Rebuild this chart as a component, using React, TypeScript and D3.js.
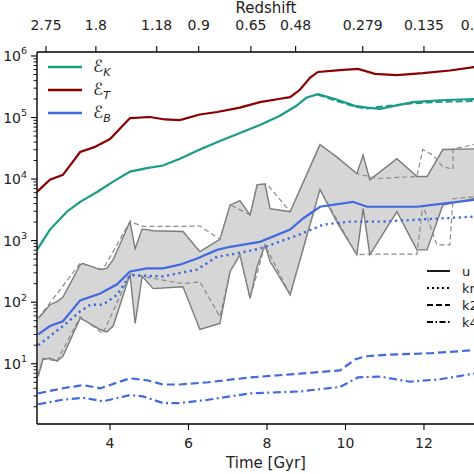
import React from "react";
import * as d3 from "d3";

const W = 474;
const H = 474;

// ---- axis ticks ----
const timeTicks = [4, 6, 8, 10, 12];
const redshiftLabels = ["2.75", "1.8", "1.18", "0.9", "0.65", "0.48", "0.279", "0.135", "0.025"];
const redshiftTimes = [2.37, 3.64, 5.19, 6.26, 7.59, 8.73, 10.44, 12.0, 13.45];
const yDecades = [1, 2, 3, 4, 5, 6];

// ---- series ----
const tT = [2.14, 2.47, 2.8, 3.24, 3.6, 4.0, 4.25, 4.51, 5.02, 5.4, 5.78, 6.29, 6.73, 7.31, 7.82, 8.3, 8.59, 8.84, 9.1, 9.3, 9.86, 10.32, 10.75, 11.31, 11.97, 12.66, 13.27, 13.81];
const eT = [6200, 9800, 11700, 27500, 33000, 44700, 66000, 98000, 102000, 93000, 91000, 112000, 123000, 145000, 178000, 200000, 214000, 282000, 447000, 550000, 590000, 617000, 513000, 490000, 525000, 580000, 660000, 700000];

const tK = [2.14, 2.47, 2.9, 3.24, 3.67, 4.08, 4.51, 4.94, 5.35, 5.78, 6.29, 6.8, 7.31, 7.82, 8.33, 8.75, 9.0, 9.3, 9.73, 10.24, 10.55, 10.88, 11.72, 12.41, 13.27, 13.81];
const eK = [710, 1510, 2950, 4270, 6170, 9100, 13200, 15100, 16600, 21400, 30200, 41700, 56200, 75900, 107000, 155000, 209000, 240000, 200000, 155000, 145000, 138000, 178000, 191000, 200000, 200000];
const tK2 = [9.3, 9.73, 10.24, 10.55, 10.88, 11.72, 12.41, 13.27, 13.81];
const eK2 = [235000, 190000, 150000, 140000, 150000, 170000, 180000, 185000, 190000];

const tB = [2.17, 2.47, 2.8, 3.24, 3.75, 4.18, 4.51, 4.94, 5.35, 5.78, 6.22, 6.73, 7.06, 7.82, 8.59, 8.92, 9.35, 10.19, 10.55, 11.82, 12.48, 13.27, 13.81];
const eB = [30, 41, 49, 107, 138, 195, 316, 355, 355, 407, 513, 708, 794, 955, 1510, 2290, 3550, 4270, 3550, 3550, 3980, 4570, 4790];

const tBkn = [2.17, 2.47, 2.8, 3.24, 3.5, 3.82, 4.18, 4.51, 5.35, 6.22, 6.73, 7.06, 7.82, 8.84, 9.43, 10.11, 10.96, 11.82, 13.27, 13.81];
const eBkn = [20, 28, 41, 71, 91, 91, 132, 275, 263, 339, 550, 589, 741, 1260, 1820, 2040, 2040, 2190, 2450, 2510];

const tBk2 = [2.17, 2.8, 3.31, 3.75, 4.51, 4.94, 5.35, 5.78, 6.5, 7.57, 8.84, 9.86, 10.24, 10.5, 11.13, 12.15, 13.27, 13.81];
const eBk2 = [3.3, 4.0, 4.5, 4.0, 5.8, 5.4, 4.6, 4.6, 5.0, 6.0, 6.9, 7.8, 11.7, 13.2, 14.1, 14.8, 16.6, 17];

const tBk4 = [2.17, 2.8, 3.31, 3.82, 4.51, 4.84, 5.35, 5.78, 6.5, 7.57, 8.84, 9.86, 10.32, 10.88, 11.64, 12.41, 13.27, 13.81];
const eBk4 = [2.2, 2.6, 2.8, 2.45, 3.1, 2.95, 2.3, 2.3, 2.6, 3.3, 3.55, 4.2, 6.0, 6.2, 5.1, 5.6, 6.9, 7.2];

// spread band of epsilon_B across runs
const tBand = [2.17, 2.29, 2.47, 2.65, 2.8, 3.24, 3.31, 3.75, 3.92, 4.08, 4.51, 4.64, 4.82, 5.1, 5.86, 6.29, 6.8, 7.06, 7.31, 7.57, 7.75, 7.95, 8.08, 8.59, 9.35, 9.8, 10.29, 10.45, 10.62, 11.31, 11.82, 12.08, 12.48, 13.27, 13.81];
const bandHi = [55, 66, 91, 102, 120, 407, 427, 339, 355, 490, 2040, 741, 1550, 1450, 1410, 661, 1050, 3800, 4470, 2630, 8130, 8320, 3310, 2950, 36300, 22400, 12300, 24500, 9770, 21400, 11000, 11000, 30200, 30900, 30900];
const bandLo = [6.2, 11.7, 12.3, 11, 13.2, 55, 52, 36, 33, 41, 282, 45, 263, 166, 178, 36, 45, 316, 589, 115, 380, 851, 457, 132, 6760, 1900, 589, 3310, 589, 2950, 708, 708, 3800, 4790, 4790];

const tDA = [2.17, 3.24, 3.82, 4.51, 4.84, 5.86, 6.29, 6.8, 7.06, 7.57, 7.75, 8.0, 8.59, 9.35, 9.61, 10.29, 10.8, 11.82, 11.97, 12.23, 12.48, 12.74, 12.74, 13.27, 13.81];
const eDA = [55, 427, 339, 2040, 1700, 1700, 1740, 1050, 3800, 2630, 8130, 8320, 2950, 36300, 27500, 12300, 10200, 11000, 30200, 24500, 15800, 14500, 30900, 36300, 36300];
const tDB = [2.17, 2.29, 2.65, 3.24, 3.82, 4.51, 4.82, 5.86, 6.29, 6.8, 7.06, 7.31, 7.57, 7.95, 8.59, 9.35, 10.29, 10.62, 11.82, 11.97, 12.33, 12.66, 12.74, 13.27, 13.81];
const eDB = [6.5, 12.3, 11, 58, 31, 288, 263, 200, 214, 58, 316, 589, 115, 851, 132, 6760, 589, 603, 603, 3800, 851, 851, 4790, 5130, 5130];

const legendMain = [
  { sub: "K", color: "#1a9a88" },
  { sub: "T", color: "#8b0000" },
  { sub: "B", color: "#4169e1" },
];
const legendRuns = [
  { label: "kmax".slice(0, 4) === "kmax" ? "u" : "u", dash: "" },
  { label: "kmax", dash: "2,3" },
  { label: "k20", dash: "6,3" },
  { label: "k40", dash: "6,2.5,1.5,2.5" },
];

const FONT = "DejaVu Sans, sans-serif";

export default function App() {
  const left = 37, right = 495, top = 52, bottom = 424;
  const x = d3.scaleLinear().domain([2.14, 13.81]).range([left, right]);
  const y = d3.scaleLog().domain([1.05, 1.16e6]).range([bottom, top]);

  const zip = (ts: number[], vs: number[]) => ts.map((t, i) => [t, vs[i]] as [number, number]);
  const line = d3.line<[number, number]>().x((d) => x(d[0])).y((d) => y(d[1]));
  const area = d3
    .area<number>()
    .x((_, i) => x(tBand[i]))
    .y0((_, i) => y(bandLo[i]))
    .y1((_, i) => y(bandHi[i]));

  const minor: number[] = [];
  for (let k = 0; k <= 5; k++) for (let m = 2; m <= 9; m++) minor.push(m * Math.pow(10, k));

  return (
    <svg width={W} height={H} style={{ position: "absolute", left: 0, top: 0, background: "#fff" }} fontFamily={FONT}>
      <defs>
        <clipPath id="plot">
          <rect x={left} y={top} width={right - left} height={bottom - top} />
        </clipPath>
      </defs>
      <rect x={0} y={0} width={W} height={H} fill="#fff" />
      <g clipPath="url(#plot)">
        <path d={area(tBand.map((_, i) => i)) || ""} fill="#d6d6d6" stroke="none" />
        <path d={line(zip(tBand, bandHi)) || ""} fill="none" stroke="#7a7a7a" strokeWidth={1.4} />
        <path d={line(zip(tBand, bandLo)) || ""} fill="none" stroke="#7a7a7a" strokeWidth={1.4} />
        <path d={line(zip(tDA, eDA)) || ""} fill="none" stroke="#8a8a8a" strokeWidth={1.2} strokeDasharray="5,3" />
        <path d={line(zip(tDB, eDB)) || ""} fill="none" stroke="#8a8a8a" strokeWidth={1.2} strokeDasharray="5,3" />

        <path d={line(zip(tK2, eK2)) || ""} fill="none" stroke="#1a9a88" strokeWidth={2} strokeDasharray="7,3" />
        <path d={line(zip(tK, eK)) || ""} fill="none" stroke="#1a9a88" strokeWidth={2.2} />
        <path d={line(zip(tT, eT)) || ""} fill="none" stroke="#8b0000" strokeWidth={2.2} />
        <path d={line(zip(tB, eB)) || ""} fill="none" stroke="#4169e1" strokeWidth={2.2} />
        <path d={line(zip(tBkn, eBkn)) || ""} fill="none" stroke="#4169e1" strokeWidth={2.4} strokeDasharray="2.2,3.6" />
        <path d={line(zip(tBk2, eBk2)) || ""} fill="none" stroke="#4169e1" strokeWidth={2.2} strokeDasharray="8,4" />
        <path d={line(zip(tBk4, eBk4)) || ""} fill="none" stroke="#4169e1" strokeWidth={2.2} strokeDasharray="8,3.5,2,3.5" />
      </g>

      {/* frame */}
      <line x1={left} x2={left} y1={top} y2={bottom} stroke="#000" strokeWidth={1.4} />
      <line x1={left} x2={right} y1={bottom} y2={bottom} stroke="#000" strokeWidth={1.4} />
      <line x1={left} x2={right} y1={top} y2={top} stroke="#000" strokeWidth={1.4} />

      {/* bottom axis */}
      {timeTicks.map((t) => (
        <g key={"bt" + t}>
          <line x1={x(t)} x2={x(t)} y1={bottom} y2={bottom + 6} stroke="#000" strokeWidth={1.1} />
          <text x={x(t)} y={bottom + 24} textAnchor="middle" fontSize={14} fill="#222">{t}</text>
        </g>
      ))}
      <text x={(left + right) / 2} y={468} textAnchor="middle" fontSize={15} fill="#222">Time [Gyr]</text>

      {/* top axis */}
      {redshiftTimes.map((t, i) => (
        <g key={"tt" + i}>
          <line x1={x(t)} x2={x(t)} y1={top} y2={top - 6} stroke="#000" strokeWidth={1.1} />
          <text x={x(t)} y={30} textAnchor="middle" fontSize={14} fill="#222">{redshiftLabels[i]}</text>
        </g>
      ))}
      <text x={(left + right) / 2} y={13} textAnchor="middle" fontSize={15} fill="#222">Redshift</text>

      {/* left axis */}
      {minor.map((v) => (
        <line key={"mn" + v} x1={left} x2={left - 3.5} y1={y(v)} y2={y(v)} stroke="#000" strokeWidth={0.9} />
      ))}
      {yDecades.map((k) => (
        <g key={"yd" + k}>
          <line x1={left} x2={left - 6} y1={y(Math.pow(10, k))} y2={y(Math.pow(10, k))} stroke="#000" strokeWidth={1.1} />
          <text x={27} y={y(Math.pow(10, k)) + 5} textAnchor="end" fontSize={14} fill="#222">
            10<tspan fontSize={9.5} dy={-6.5}>{k}</tspan>
          </text>
        </g>
      ))}

      {/* legend: energies */}
      {legendMain.map((e, i) => (
        <g key={"lm" + i}>
          <line x1={48} x2={82} y1={67 + i * 23} y2={67 + i * 23} stroke={e.color} strokeWidth={2.4} />
          <text x={93} y={67 + i * 23 + 5} fontSize={17} fill="#222">
            ℰ<tspan fontSize={11} fontStyle="italic" dy={4}>{e.sub}</tspan>
          </text>
        </g>
      ))}

      {/* legend: runs */}
      {legendRuns.map((r, i) => (
        <g key={"lr" + i}>
          <line x1={427} x2={450} y1={271 + i * 17} y2={271 + i * 17} stroke="#000" strokeWidth={1.8} strokeDasharray={r.dash || undefined} />
          <text x={462} y={271 + i * 17 + 5} fontSize={13} fill="#222">{r.label}</text>
        </g>
      ))}
    </svg>
  );
}
